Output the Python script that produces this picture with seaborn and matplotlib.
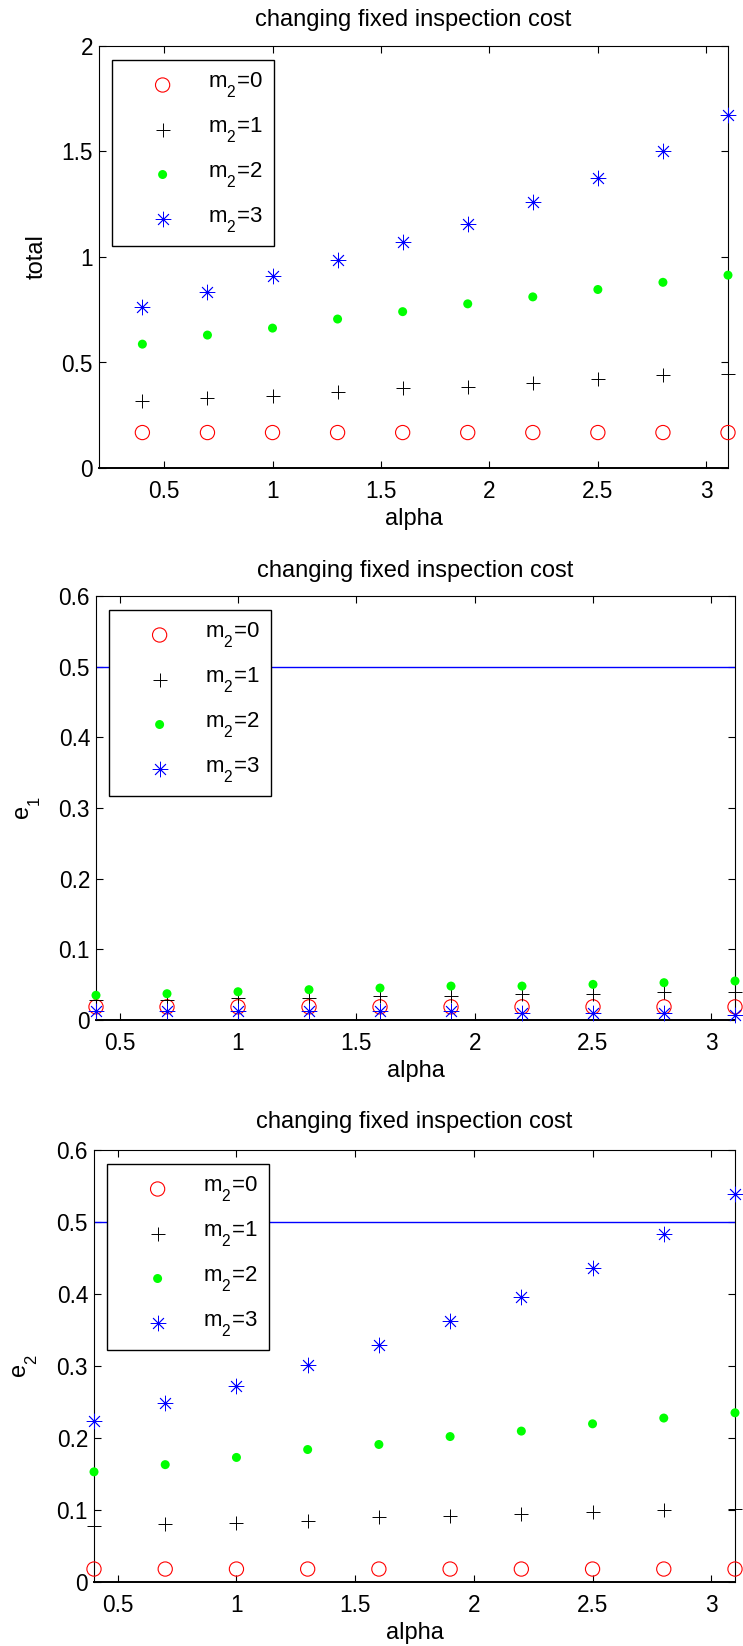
import matplotlib
matplotlib.use("Agg")
import matplotlib.pyplot as plt
import matplotlib._mathtext as mathtext_internals
import pandas as pd
import seaborn as sns

# alpha values on the horizontal axis (shared by all three panels)
alpha = [0.4, 0.7, 1.0, 1.3, 1.6, 1.9, 2.2, 2.5, 2.8, 3.1]

# total cost for m2 = 0..3
total_m0 = [0.168, 0.168, 0.168, 0.168, 0.168, 0.168, 0.168, 0.168, 0.168, 0.168]
total_m1 = [0.317, 0.334, 0.342, 0.359, 0.377, 0.385, 0.402, 0.420, 0.439, 0.447]
total_m2 = [0.587, 0.630, 0.663, 0.706, 0.741, 0.778, 0.811, 0.846, 0.880, 0.914]
total_m3 = [0.765, 0.833, 0.909, 0.987, 1.072, 1.157, 1.262, 1.373, 1.503, 1.672]

# e1 for m2 = 0..3
e1_m0 = [0.0186, 0.0186, 0.0186, 0.0186, 0.0186, 0.0186, 0.0186, 0.0186, 0.0186, 0.0186]
e1_m1 = [0.0287, 0.0287, 0.0315, 0.0315, 0.0340, 0.0340, 0.0368, 0.0368, 0.0392, 0.0392]
e1_m2 = [0.0350, 0.0372, 0.0400, 0.0429, 0.0452, 0.0480, 0.0480, 0.0504, 0.0528, 0.0552]
e1_m3 = [0.0127, 0.0127, 0.0127, 0.0127, 0.0127, 0.0127, 0.0105, 0.0105, 0.0105, 0.0076]

# e2 for m2 = 0..3
e2_m0 = [0.018, 0.018, 0.018, 0.018, 0.018, 0.018, 0.018, 0.018, 0.018, 0.018]
e2_m1 = [0.0776, 0.080, 0.082, 0.0846, 0.090, 0.092, 0.095, 0.0977, 0.100, 0.102]
e2_m2 = [0.153, 0.163, 0.173, 0.184, 0.191, 0.202, 0.2096, 0.2197, 0.2277, 0.235]
e2_m3 = [0.223, 0.249, 0.2725, 0.301, 0.329, 0.363, 0.3955, 0.4368, 0.483, 0.539]

# reference level drawn on the e1 / e2 panels
e_threshold = 0.5

series_labels = ["m$_2$=0", "m$_2$=1", "m$_2$=2", "m$_2$=3"]
title_text = "changing fixed inspection cost"
x_label = "alpha"
y_labels = ["total", "e$_1$", "e$_2$"]

x_ticks = [0.5, 1.0, 1.5, 2.0, 2.5, 3.0]
x_tick_labels = ["0.5", "1", "1.5", "2", "2.5", "3"]
total_ticks = [0.0, 0.5, 1.0, 1.5, 2.0]
total_tick_labels = ["0", "0.5", "1", "1.5", "2"]
e_ticks = [0.0, 0.1, 0.2, 0.3, 0.4, 0.5, 0.6]
e_tick_labels = ["0", "0.1", "0.2", "0.3", "0.4", "0.5", "0.6"]

sns.set_theme(style="white")
plt.rcParams.update({
    "font.family": ["Liberation Sans", "DejaVu Sans"],
    "mathtext.fontset": "custom",
    "mathtext.rm": "Liberation Sans",
    "mathtext.it": "Liberation Sans",
    "mathtext.default": "regular",
    "font.size": 16,
    "text.color": "black",
    "axes.labelcolor": "black",
    "axes.edgecolor": "black",
    "xtick.color": "black",
    "ytick.color": "black",
})

# drop subscripts lower, the way the labels are typeset here
try:
    mathtext_internals.FontConstantsBase.sub1 = 0.85
except Exception:
    pass

W, H = 743, 1646
fig = plt.figure(figsize=(W / 100, H / 100), dpi=100)

# marker styles for m2 = 0..3
marker_styles = [
    dict(marker="o", s=105, facecolor="none", edgecolor="#ff0000", linewidth=0.8),
    dict(marker="+", s=100, color="black", linewidth=0.7),
    dict(marker="o", s=42, color="#00ff00", edgecolor="none"),
    dict(marker=(8, 2, 0), s=115, color="#0000ff", linewidth=0.6),
]

# panel boxes in pixels: left, top, right, bottom
panel_px = [
    (99, 46, 728, 468),
    (96, 596, 735, 1020),
    (94, 1150, 735, 1582),
]

panels = [
    dict(series=[total_m0, total_m1, total_m2, total_m3], xlim=(0.2, 3.1), ylim=(0, 2),
         yticks=total_ticks, yticklabels=total_tick_labels, threshold=None,
         ylabel=y_labels[0], ylabel_x=43, title_pad=20),
    dict(series=[e1_m0, e1_m1, e1_m2, e1_m3], xlim=(0.4, 3.1), ylim=(0, 0.6),
         yticks=e_ticks, yticklabels=e_tick_labels, threshold=e_threshold,
         ylabel=y_labels[1], ylabel_x=30, title_pad=19.5),
    dict(series=[e2_m0, e2_m1, e2_m2, e2_m3], xlim=(0.4, 3.1), ylim=(0, 0.6),
         yticks=e_ticks, yticklabels=e_tick_labels, threshold=e_threshold,
         ylabel=y_labels[2], ylabel_x=27, title_pad=22),
]

for (l, t, r, b), p in zip(panel_px, panels):
    ax = fig.add_axes([l / W, 1 - b / H, (r - l) / W, (b - t) / H])
    wpx, hpx = r - l, b - t

    if p["threshold"] is not None:
        ax.axhline(p["threshold"], color="#0000ff", linewidth=1.0, zorder=1)

    for vals, lab, st in zip(p["series"], series_labels, marker_styles):
        df = pd.DataFrame({"alpha": alpha, "value": vals})
        sns.scatterplot(data=df, x="alpha", y="value", ax=ax, label=lab,
                        clip_on=False, zorder=3, **st)

    ax.set_xlim(*p["xlim"])
    ax.set_ylim(*p["ylim"])
    ax.set_xticks(x_ticks)
    ax.set_xticklabels(x_tick_labels)
    ax.set_yticks(p["yticks"])
    ax.set_yticklabels(p["yticklabels"])
    ax.tick_params(which="both", direction="in", top=True, right=True,
                   bottom=True, left=True, length=5, width=0.8, labelsize=16.3)
    ax.tick_params(axis="x", pad=8.3)
    ax.tick_params(axis="y", pad=4.3)
    for side, sp in ax.spines.items():
        sp.set_visible(True)
        sp.set_color("black")
        sp.set_linewidth(1.4 if side == "bottom" else 0.8)

    ax.set_title(title_text, fontsize=17, pad=p["title_pad"] / 100 * 72)

    ax.set_xlabel(x_label, fontsize=17)
    ax.xaxis.label.set_va("baseline")
    ax.xaxis.set_label_coords(0.5, -57 / hpx)

    ax.set_ylabel(p["ylabel"], fontsize=17)
    ax.yaxis.label.set_va("baseline")
    ax.yaxis.set_label_coords((p["ylabel_x"] - l) / wpx, 0.5)

    leg = ax.legend(loc="upper left", bbox_to_anchor=(12.5 / wpx, 1 - 14 / hpx),
                    borderaxespad=0, frameon=True, fancybox=False, framealpha=1,
                    edgecolor="black", facecolor="white", fontsize=16,
                    borderpad=0.5, handlelength=3.6, handletextpad=0.25,
                    labelspacing=0.7, scatterpoints=1, scatteryoffsets=[0.2])
    leg.get_frame().set_linewidth(1.0)
    leg.set_zorder(5)

fig.savefig("out.png", dpi=100, facecolor="white")
